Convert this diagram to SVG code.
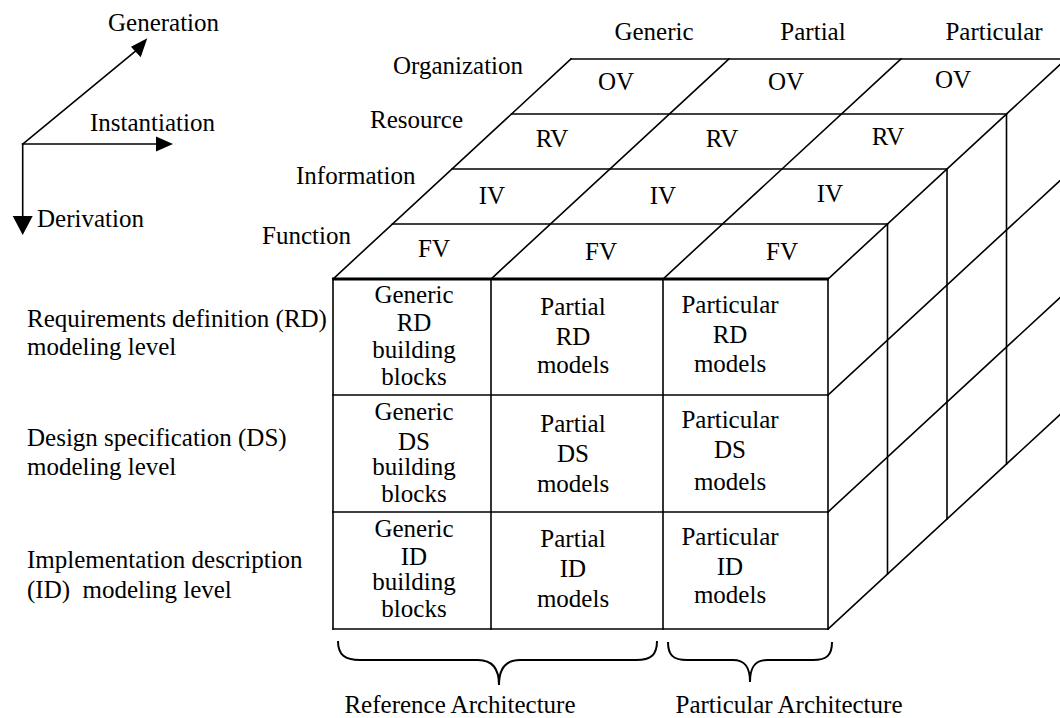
<svg xmlns="http://www.w3.org/2000/svg" width="1060" height="718" viewBox="0 0 1060 718">
  <style>
    text { font-family: "Liberation Serif", "Times New Roman", Times, serif; font-size: 25px; fill: #000; }
    .c { text-anchor: middle; }
    .ln { stroke: #000; stroke-width: 1.6; fill: none; stroke-linecap: square; }
    .thick { stroke: #000; stroke-width: 3; fill: none; }
    .brace { stroke: #000; stroke-width: 2; fill: none; }
    .head { fill: #000; stroke: none; }
  </style>
  <rect width="1060" height="718" fill="#fff"/>

  <!-- Axis legend -->
  <g id="axes">
    <line class="ln" x1="22.7" y1="144" x2="137" y2="50"/>
    <polygon class="head" points="147.3,38.3 131,46.7 140.7,57.3"/>
    <line class="ln" x1="22.7" y1="144" x2="160" y2="144"/>
    <polygon class="head" points="173,144 156,136.5 156,151.5"/>
    <line class="ln" x1="22.7" y1="144" x2="22.7" y2="220"/>
    <polygon class="head" points="22.7,235 12.7,216 32.7,216"/>
    <text x="108" y="31">Generation</text>
    <text x="90" y="131">Instantiation</text>
    <text x="37" y="227">Derivation</text>
  </g>

  <!-- Cube wireframe -->
  <g id="connectors">
    <!-- top face: view layers -->
    <line class="ln" x1="392.5" y1="224" x2="887.5" y2="224"/>
    <line class="ln" x1="452" y1="169" x2="947" y2="169"/>
    <line class="ln" x1="511.5" y1="114" x2="1006.5" y2="114"/>
    <line class="ln" x1="571" y1="59" x2="1066" y2="59"/>
    <line class="ln" x1="333" y1="279" x2="571" y2="59"/>
    <line class="ln" x1="491" y1="279" x2="729" y2="59"/>
    <line class="ln" x1="663" y1="279" x2="901" y2="59"/>
    <line class="ln" x1="828" y1="279" x2="1066" y2="59"/>
    <!-- side face -->
    <line class="ln" x1="887.5" y1="224" x2="887.5" y2="574"/>
    <line class="ln" x1="947" y1="169" x2="947" y2="519"/>
    <line class="ln" x1="1006.5" y1="114" x2="1006.5" y2="464"/>
    <line class="ln" x1="828" y1="395" x2="1066" y2="175"/>
    <line class="ln" x1="828" y1="512" x2="1066" y2="292"/>
    <line class="ln" x1="828" y1="629" x2="1066" y2="409"/>
    <!-- front face grid -->
    <line class="ln" x1="333" y1="279" x2="333" y2="629"/>
    <line class="ln" x1="491" y1="279" x2="491" y2="629"/>
    <line class="ln" x1="663" y1="279" x2="663" y2="629"/>
    <line class="ln" x1="828" y1="279" x2="828" y2="629"/>
    <line class="ln" x1="333" y1="395" x2="828" y2="395"/>
    <line class="ln" x1="333" y1="512" x2="828" y2="512"/>
    <line class="ln" x1="333" y1="629" x2="828" y2="629" stroke-width="2"/>
    <line class="thick" x1="332" y1="279" x2="829" y2="279"/>
  </g>

  <!-- Column headers -->
  <g id="headers">
    <text class="c" x="654" y="40">Generic</text>
    <text class="c" x="813" y="40">Partial</text>
    <text class="c" x="994" y="40">Particular</text>
  </g>

  <!-- View labels -->
  <g id="view-labels">
    <text x="393" y="74">Organization</text>
    <text x="370" y="128">Resource</text>
    <text x="296" y="184">Information</text>
    <text x="262" y="244">Function</text>
  </g>

  <!-- Top face cells -->
  <g id="views">
    <text class="c" x="616" y="90">OV</text>
    <text class="c" x="786" y="90">OV</text>
    <text class="c" x="953" y="88">OV</text>
    <text class="c" x="552" y="147">RV</text>
    <text class="c" x="722" y="147">RV</text>
    <text class="c" x="888" y="145">RV</text>
    <text class="c" x="492" y="204">IV</text>
    <text class="c" x="663" y="204">IV</text>
    <text class="c" x="830" y="202">IV</text>
    <text class="c" x="434" y="257">FV</text>
    <text class="c" x="601" y="260">FV</text>
    <text class="c" x="782" y="260">FV</text>
  </g>

  <!-- Modeling level labels -->
  <g id="levels">
    <text x="27" y="327">Requirements definition (RD)</text>
    <text x="27" y="355">modeling level</text>
    <text x="27" y="446">Design specification (DS)</text>
    <text x="27" y="475">modeling level</text>
    <text x="27" y="568">Implementation description</text>
    <text x="27" y="598" xml:space="preserve">(ID)  modeling level</text>
  </g>

  <!-- Front face cells -->
  <g id="cell-generic-rd">
    <text class="c" x="414" y="303">Generic</text>
    <text class="c" x="414" y="331">RD</text>
    <text class="c" x="414" y="358">building</text>
    <text class="c" x="414" y="385">blocks</text>
  </g>
  <g id="cell-partial-rd">
    <text class="c" x="573" y="315">Partial</text>
    <text class="c" x="573" y="345">RD</text>
    <text class="c" x="573" y="373">models</text>
  </g>
  <g id="cell-particular-rd">
    <text class="c" x="730" y="313">Particular</text>
    <text class="c" x="730" y="343">RD</text>
    <text class="c" x="730" y="372">models</text>
  </g>
  <g id="cell-generic-ds">
    <text class="c" x="414" y="420">Generic</text>
    <text class="c" x="414" y="450">DS</text>
    <text class="c" x="414" y="475">building</text>
    <text class="c" x="414" y="502">blocks</text>
  </g>
  <g id="cell-partial-ds">
    <text class="c" x="573" y="432">Partial</text>
    <text class="c" x="573" y="462">DS</text>
    <text class="c" x="573" y="492">models</text>
  </g>
  <g id="cell-particular-ds">
    <text class="c" x="730" y="428">Particular</text>
    <text class="c" x="730" y="458">DS</text>
    <text class="c" x="730" y="490">models</text>
  </g>
  <g id="cell-generic-id">
    <text class="c" x="414" y="537">Generic</text>
    <text class="c" x="414" y="565">ID</text>
    <text class="c" x="414" y="590">building</text>
    <text class="c" x="414" y="617">blocks</text>
  </g>
  <g id="cell-partial-id">
    <text class="c" x="573" y="547">Partial</text>
    <text class="c" x="573" y="577">ID</text>
    <text class="c" x="573" y="607">models</text>
  </g>
  <g id="cell-particular-id">
    <text class="c" x="730" y="545">Particular</text>
    <text class="c" x="730" y="575">ID</text>
    <text class="c" x="730" y="603">models</text>
  </g>

  <!-- Architecture braces -->
  <g id="reference-architecture">
    <path class="brace" d="M338,641 C338,655 345,660 360,660 L478,660 C492,660 499,668 499,685 C499,668 506,660 520,660 L636,660 C651,660 657,655 657,641"/>
    <text class="c" x="460" y="713">Reference Architecture</text>
  </g>
  <g id="particular-architecture">
    <path class="brace" d="M668,642 C668,655 673,660 687,660 L733,660 C745,660 750,667 750,682 C750,667 755,660 767,660 L813,660 C827,660 832,655 832,642"/>
    <text class="c" x="789" y="713">Particular Architecture</text>
  </g>
</svg>
